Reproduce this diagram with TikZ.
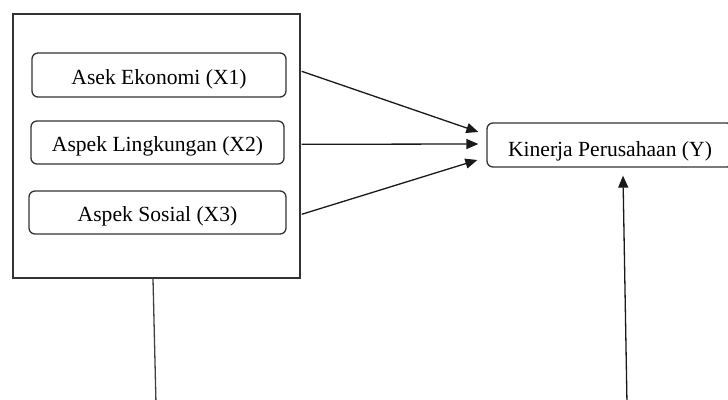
\documentclass[tikz,border=0pt]{standalone}
\usepackage{fontspec}
\setmainfont{Liberation Serif}
\usetikzlibrary{arrows.meta,calc}
\begin{document}
\begin{tikzpicture}[x=1pt,y=-1pt,
 box/.style={draw=black!80, line width=1.3pt, rounded corners=6pt, inner sep=0pt,
   text height=18pt, text depth=0pt, font=\fontsize{21.6pt}{26pt}\selectfont},
 frame/.style={draw=black!80, line width=1.4pt, inner sep=0pt},
 arr/.style={draw=black!90, line width=1.3pt, -{Triangle[length=12pt,width=10pt]}},
 conn/.style={draw=black!75, line width=1.3pt}]
\useasboundingbox (0,0) rectangle (728,399);
\clip (0,0) rectangle (728,399);
\node[frame, minimum width=287pt, minimum height=264pt] (outer) at (156.5,146) {};
\node[box, minimum width=254pt, minimum height=44pt] (x1) at (159,75) {Asek Ekonomi (X1)};
\node[box, minimum width=253pt, minimum height=43pt] (x2) at (157.5,142.5) {Aspek Lingkungan (X2)};
\node[box, minimum width=257pt, minimum height=43pt] (x3) at (157.5,212.5) {Aspek Sosial (X3)};
\node[box, minimum width=246pt, minimum height=44pt, text height=22pt] (y) at (610,145) {Kinerja Perusahaan (Y)};
\coordinate (s1) at ($(outer.north east)+(1,58)$);
\coordinate (s2) at ($(outer.north east)+(1,131)$);
\coordinate (s3) at ($(outer.north east)+(1,201)$);
\coordinate (t1) at ($(y.west)+(-8,-13)$);
\coordinate (t2) at ($(y.west)+(-8,-1)$);
\coordinate (t3) at ($(y.west)+(-9,15)$);
\draw[arr] (s1) -- (t1);
\draw[arr] (s2) -- (t2);
\draw[arr] (s3) -- (t3);
\coordinate (b2) at (627,404);
\coordinate (t4) at ($(y.south)+(13,8)$);
\draw[arr] (b2) -- (t4);
\coordinate (a1) at ($(outer.south)+(-3.5,0)$);
\coordinate (b1) at (156,404);
\draw[conn] (a1) -- (b1);
\end{tikzpicture}
\end{document}
